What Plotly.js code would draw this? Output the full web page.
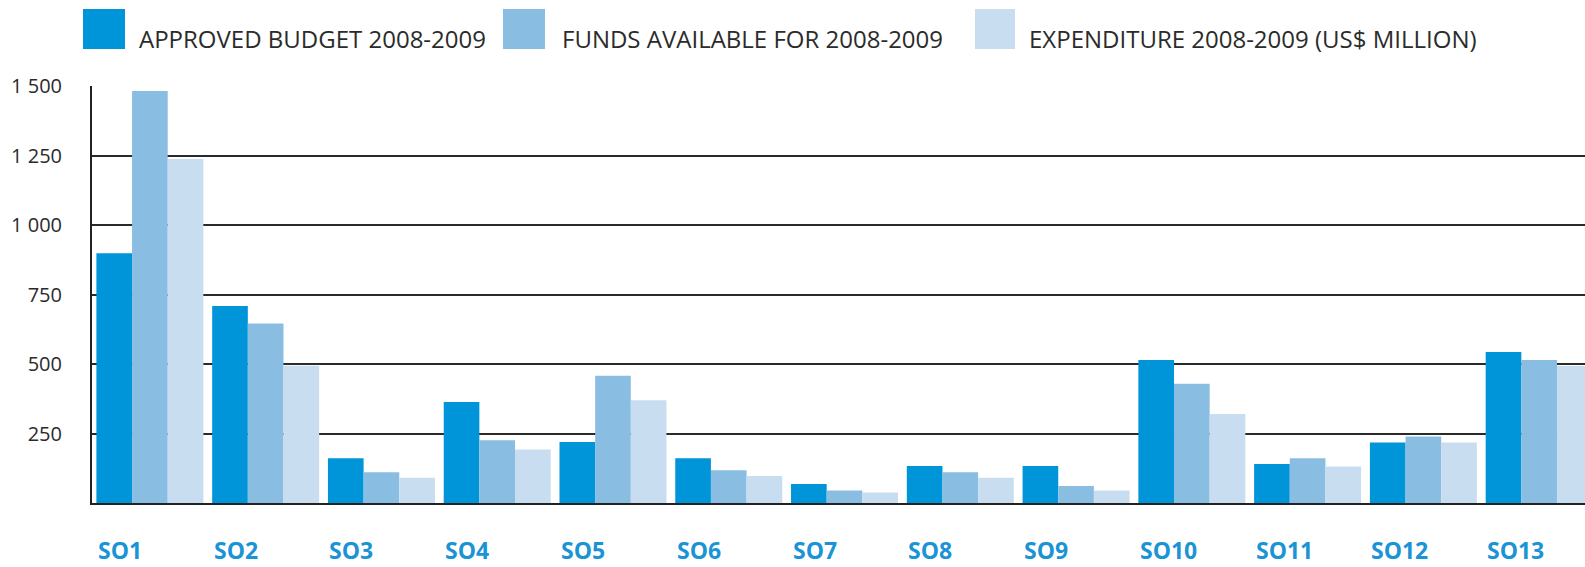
<!DOCTYPE html>
<html>
<head>
<meta charset="utf-8">
<script src="https://cdn.plot.ly/plotly-3.0.1.min.js"></script>
<style>
html,body{margin:0;padding:0;background:#fff;overflow:hidden;}
#chart{width:1585px;height:567px;}
</style>
</head>
<body>
<div id="chart"></div>
<script>
// ---- data ----
const categories = ["SO1","SO2","SO3","SO4","SO5","SO6","SO7","SO8","SO9","SO10","SO11","SO12","SO13"];
const approvedBudget = [898, 709, 161, 363, 219, 161, 68, 133, 133, 514, 140, 218, 543];
const fundsAvailable = [1482, 646, 111, 226, 458, 118, 45, 111, 61, 429, 161, 239, 514];
const expenditure = [1237, 494, 91, 192, 370, 97, 38, 91, 45, 320, 131, 218, 493];
const seriesNames = ["APPROVED BUDGET 2008-2009", "FUNDS AVAILABLE FOR 2008-2009", "EXPENDITURE 2008-2009 (US$ MILLION)"];
const yTickVals = [250, 500, 750, 1000, 1250, 1500];
const yTickText = ["250", "500", "750", "1 000", "1 250", "1 500"];

// ---- style ----
const colors = ["#0095d9", "#8abde2", "#c9ddf0"];
const W = 1585, H = 567;
const M = {l: 92, r: 0, t: 86, b: 64};
const plotW = W - M.l - M.r, plotH = H - M.t - M.b;
const px2x = px => (px - M.l) / plotW;
const px2y = py => (H - M.b - py) / plotH;

const series = [approvedBudget, fundsAvailable, expenditure];
const traces = series.map((vals, i) => ({
  type: "bar",
  x: categories,
  y: vals,
  name: seriesNames[i],
  marker: {color: colors[i], line: {width: 0}},
  showlegend: false,
  hoverinfo: "skip"
}));

// legend drawn as swatches + text
const legendSw = [[83, 125], [503, 545], [975, 1015]];
const legendTx = [137, 560, 1027];
const shapes = legendSw.map((s, i) => ({
  type: "rect", xref: "paper", yref: "paper",
  x0: px2x(s[0]), x1: px2x(s[1]), y0: px2y(49), y1: px2y(9),
  fillcolor: colors[i], line: {width: 0}
}));
const annotations = seriesNames.map((n, i) => ({
  text: n, xref: "paper", yref: "paper",
  x: px2x(legendTx[i]), y: px2y(38), xanchor: "left", yanchor: "middle",
  showarrow: false, font: {family: "Open Sans", size: 24, color: "#2b2b2b"}
}));
// category labels, left-aligned with each group
categories.forEach(c => annotations.push({
  text: "<b>" + c + "</b>", xref: "x", yref: "paper",
  x: c, y: 0, xanchor: "left", yanchor: "middle", xshift: -54, yshift: -47,
  showarrow: false, font: {family: "Open Sans", size: 23, color: "#1b94d6"}
}));

const layout = {
  width: W, height: H,
  margin: M,
  paper_bgcolor: "#fff", plot_bgcolor: "#fff",
  barmode: "group", bargap: 0.076, bargroupgap: 0,
  xaxis: {
    type: "category", range: [-0.5, 12.396], fixedrange: true,
    showticklabels: false, ticks: "", showgrid: false, zeroline: false,
    showline: true, linecolor: "#222", linewidth: 2.2
  },
  yaxis: {
    range: [0, 1500], fixedrange: true,
    tickvals: yTickVals, ticktext: yTickText,
    tickfont: {family: "Open Sans", size: 20, color: "#2b2b2b"},
    ticks: "", ticklabelstandoff: 24,
    showgrid: true, gridcolor: "#2a2a2a", gridwidth: 2,
    zeroline: false, showline: true, linecolor: "#222", linewidth: 2
  },
  shapes: shapes,
  annotations: annotations
};

Plotly.newPlot("chart", traces, layout, {staticPlot: true, displayModeBar: false});
</script>
</body>
</html>
